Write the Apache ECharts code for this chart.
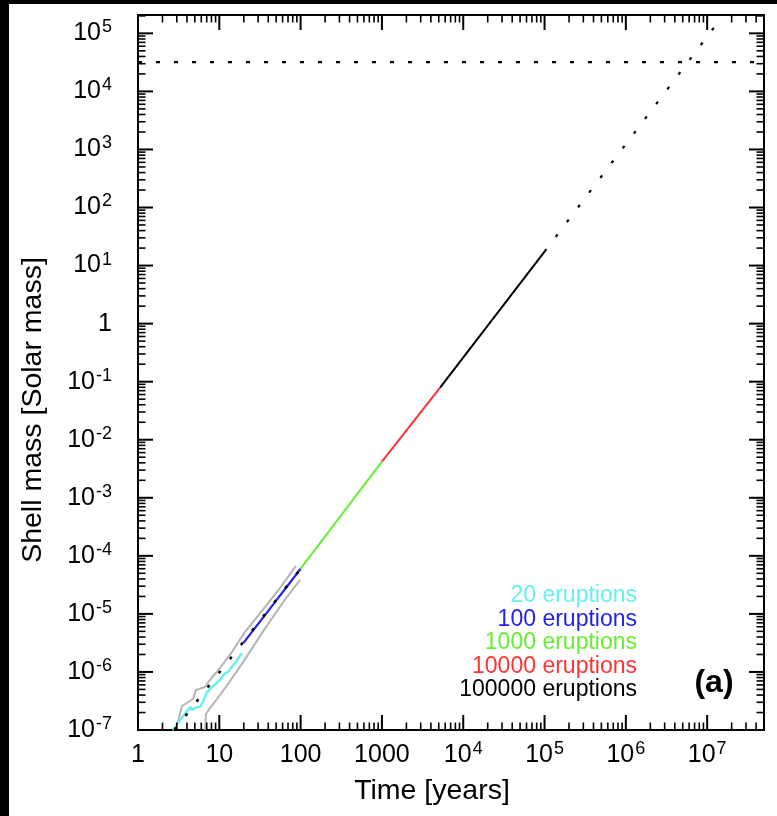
<!DOCTYPE html>
<html><head><meta charset="utf-8">
<script src="https://cdn.jsdelivr.net/npm/echarts@6/dist/echarts.min.js"></script>
<style>html,body{margin:0;padding:0;background:#fff}#c{width:777px;height:816px}</style>
</head><body><div id="c"></div>
<script>
const FONT = '"Liberation Sans", Arial, Helvetica, sans-serif';

// axis extents and tick decades
const xRange = [1, 5e7];
const yRange = [1e-7, 2.07e5];
const xDecades = [0, 1, 2, 3, 4, 5, 6, 7];
const yDecades = [-7, -6, -5, -4, -3, -2, -1, 0, 1, 2, 3, 4, 5];
const minorMultipliers = [2, 3, 4, 5, 6, 7, 8, 9];

// legend
const legendNames = ['20 eruptions', '100 eruptions', '1000 eruptions', '10000 eruptions', '100000 eruptions'];
const legendColors = ['#66f0f0', '#2222ea', '#66ee33', '#ff3333', '#000000'];

// data [time (years), shell mass (solar masses)]
const grayUpper = [[3.1, 1.35e-7], [3.19, 1.61e-7], [3.48, 2.59e-7], [4.75, 3.42e-7], [5.17, 4.9e-7], [6.66, 5.51e-7], [7.69, 7.28e-7],
  [10.2, 1.17e-6], [14.3, 2.21e-6], [20.7, 4.9e-6], [33.5, 1.13e-5], [55.8, 2.81e-5], [87.8, 6.73e-5]];
const grayLower = [[6.67, 1.0e-7], [6.86, 1.89e-7], [7.69, 2.39e-7], [9.37, 3.42e-7], [12.8, 6.2e-7], [20.1, 1.55e-6],
  [35.5, 5.3e-6], [62.5, 1.67e-5], [98.4, 3.85e-5]];
const run20 = [[2.67, 1.0e-7], [3.29, 1.48e-7], [3.97, 2.09e-7], [4.45, 2.5e-7], [4.57, 2.2e-7], [5.01, 2.4e-7], [5.79, 2.5e-7],
  [6.31, 3.1e-7], [7.0, 4.4e-7], [7.69, 5.1e-7], [9.29, 6.5e-7], [10.7, 7.9e-7], [11.7, 9.5e-7], [12.8, 1.0e-6],
  [14.2, 1.23e-6], [15.6, 1.41e-6], [16.5, 1.5e-6], [18.9, 2.1e-6]];
const run100 = [[19.7, 3.13e-6], [40, 1.13e-5], [100, 6.0e-5]];
const mean20 = [[2.8, 1.0e-7], [100, 6.0e-5]];
const run1000 = [[100, 6.0e-5], [1000, 4.2e-3]];
const run10000 = [[1000, 4.2e-3], [5190, 7.9e-2]];
const run100000 = [[5190, 7.9e-2], [1e5, 17.4]];
const extrapolation = [[1e5, 17.4], [2.5e7, 4.8e5]];
const shellLimit = [[1, 3.2e4], [5e7, 3.2e4]];

// tick values (major at decades, minor at 2..9 x decade)
const tickData = [];
xDecades.forEach(d => {
  tickData.push([Math.pow(10, d), yRange[0], 0]);
  minorMultipliers.forEach(m => { const v = m * Math.pow(10, d); if (v <= xRange[1]) tickData.push([v, yRange[0], 1]); });
});
yDecades.forEach(d => {
  tickData.push([xRange[0], Math.pow(10, d), 2]);
  minorMultipliers.forEach(m => { const v = m * Math.pow(10, d); if (v <= yRange[1]) tickData.push([xRange[0], v, 3]); });
});

function expOf(v) { const e = Math.log10(v); const r = Math.round(e); return Math.abs(e - r) < 1e-6 ? r : null; }
const richLabel = {
  b: { fontFamily: FONT, fontSize: 25, color: '#000', lineHeight: 30 },
  s: { fontFamily: FONT, fontSize: 18, color: '#000', lineHeight: 16, verticalAlign: 'top', padding: [0, 0, 0, 1] }
};

function line(data, color, width, type, z) {
  return { type: 'line', data: data, symbol: 'none', silent: true, z: z || 2, clip: true,
    lineStyle: { color: color, width: width, type: type || 'solid', cap: 'butt' } };
}

const chart = echarts.init(document.getElementById('c'), null, { renderer: 'canvas' });
chart.setOption({
  animation: false,
  backgroundColor: '#fff',
  grid: { left: 138, right: 13, top: 15, bottom: 86, show: true, borderColor: '#000', borderWidth: 2 },
  xAxis: {
    type: 'log', logBase: 10, min: xRange[0], max: xRange[1], interval: 1,
    axisLine: { show: false }, axisTick: { show: false }, splitLine: { show: false },
    axisLabel: { margin: 10, rich: richLabel,
      formatter: v => { const e = expOf(v); if (e === null) return ''; if (e <= 3) return '{b|' + Math.round(Math.pow(10, e)) + '}'; return '{b|10}{s|' + e + '}'; } }
  },
  yAxis: {
    type: 'log', logBase: 10, min: yRange[0], max: yRange[1], interval: 1,
    axisLine: { show: false }, axisTick: { show: false }, splitLine: { show: false },
    axisLabel: { margin: 26, rich: richLabel,
      formatter: v => { const e = expOf(v); if (e === null) return ''; if (e === 0) return '{b|1}'; return '{b|10}{s|' + e + '}'; } }
  },
  series: [
    line(grayUpper, '#b4b4b4', 2),
    line(grayLower, '#b4b4b4', 2),
    line(run20, legendColors[0], 2.4),
    line(run100, legendColors[1], 2.2),
    line(mean20, '#000', 2.6, [3, 15], 4),
    line(run1000, legendColors[2], 2),
    line(run10000, legendColors[3], 2),
    line(run100000, legendColors[4], 2),
    line(extrapolation, '#000', 2.2, [3, 15.5]),
    line(shellLimit, '#000', 2.2, [4, 14]),
    {
      type: 'custom', silent: true, z: 5, data: tickData, encode: { x: 0, y: 1 },
      renderItem: function (params, api) {
        const cs = params.coordSys;
        const kind = api.value(2);
        const st = { stroke: '#000', lineWidth: kind % 2 === 0 ? 2 : 1.6 };
        const len = kind % 2 === 0 ? 15 : 7.5;
        if (kind < 2) {
          const p = api.coord([api.value(0), yRange[0]]);
          const yb = cs.y + cs.height, yt = cs.y;
          return { type: 'group', children: [
            { type: 'line', shape: { x1: p[0], y1: yb, x2: p[0], y2: yb - len }, style: st },
            { type: 'line', shape: { x1: p[0], y1: yt, x2: p[0], y2: yt + len }, style: st }
          ] };
        } else {
          const p = api.coord([xRange[0], api.value(1)]);
          const xl = cs.x, xr = cs.x + cs.width;
          return { type: 'group', children: [
            { type: 'line', shape: { x1: xl, y1: p[1], x2: xl + len, y2: p[1] }, style: st },
            { type: 'line', shape: { x1: xr, y1: p[1], x2: xr - len, y2: p[1] }, style: st }
          ] };
        }
      }
    }
  ],
  graphic: [
    { type: 'rect', shape: { x: 0, y: 0, width: 777, height: 4 }, style: { fill: '#000' }, silent: true },
    { type: 'rect', shape: { x: 0, y: 0, width: 9, height: 816 }, style: { fill: '#000' }, silent: true },
    { type: 'text', x: 432, y: 791, silent: true,
      style: { text: 'Time [years]', font: '28.5px ' + FONT, fill: '#000', textAlign: 'center', textVerticalAlign: 'middle' } },
    { type: 'text', x: 33, y: 410, rotation: Math.PI / 2, silent: true,
      style: { text: 'Shell mass [Solar mass]', font: '28.5px ' + FONT, fill: '#000', textAlign: 'center', textVerticalAlign: 'middle' } },
    ...legendNames.map((n, i) => ({ type: 'text', x: 637, y: 596 + i * 23.4, silent: true,
      style: { text: n, font: '23px ' + FONT, fill: legendColors[i], textAlign: 'right', textVerticalAlign: 'middle' } })),
    { type: 'text', x: 714, y: 683, silent: true,
      style: { text: '(a)', font: 'bold 32px ' + FONT, fill: '#000', textAlign: 'center', textVerticalAlign: 'middle' } }
  ]
});
</script></body></html>
